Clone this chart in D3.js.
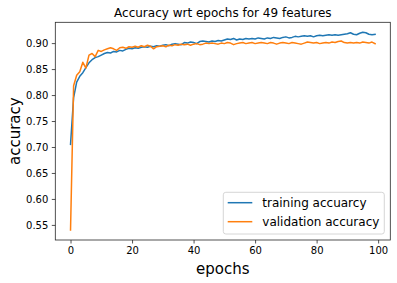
<!DOCTYPE html>
<html>
<head>
<meta charset="utf-8">
<script src="https://cdn.jsdelivr.net/npm/d3@7"></script>
<style>
  body { margin: 0; background: #fff; }
  text { font-family: "DejaVu Sans", sans-serif; fill: #000; }
</style>
</head>
<body>
<script>
// data
const epochs = d3.range(100)

const trainAcc = [
  0.705, 0.795, 0.825, 0.836, 0.843, 0.853, 0.862, 0.868, 0.872, 0.874,
  0.877, 0.880, 0.882, 0.881, 0.884, 0.883, 0.886, 0.885, 0.888, 0.890,
  0.889, 0.891, 0.890, 0.892, 0.893, 0.892, 0.894, 0.893, 0.895, 0.894,
  0.896, 0.897, 0.895, 0.898, 0.899, 0.898, 0.897, 0.901, 0.900, 0.902,
  0.901, 0.899, 0.903, 0.904, 0.903, 0.902, 0.904, 0.903, 0.905, 0.904,
  0.906, 0.908, 0.907, 0.909, 0.906, 0.908, 0.907, 0.909, 0.908, 0.909,
  0.908, 0.910, 0.909, 0.908, 0.910, 0.909, 0.911, 0.910, 0.909, 0.911,
  0.912, 0.910, 0.911, 0.913, 0.912, 0.913, 0.914, 0.913, 0.914, 0.912,
  0.914, 0.915, 0.914, 0.915, 0.916, 0.915, 0.916, 0.915, 0.916, 0.917,
  0.918, 0.920, 0.917, 0.916, 0.919, 0.921, 0.920, 0.917, 0.916, 0.917
]

const valAcc = [
  0.540, 0.818, 0.838, 0.845, 0.863, 0.852, 0.877, 0.880, 0.874, 0.886,
  0.884, 0.887, 0.889, 0.891, 0.889, 0.886, 0.891, 0.892, 0.890, 0.893,
  0.892, 0.894, 0.892, 0.895, 0.893, 0.896, 0.894, 0.889, 0.893, 0.894,
  0.895, 0.893, 0.896, 0.895, 0.897, 0.896, 0.898, 0.897, 0.898, 0.896,
  0.898, 0.899, 0.897, 0.898, 0.900, 0.899, 0.900, 0.899, 0.898, 0.900,
  0.899, 0.901, 0.900, 0.897, 0.899, 0.900, 0.901, 0.899, 0.900, 0.901,
  0.899, 0.900, 0.901, 0.900, 0.899, 0.901, 0.900, 0.898, 0.900, 0.901,
  0.900, 0.899, 0.901, 0.900, 0.899, 0.898, 0.900, 0.902, 0.901, 0.900,
  0.901, 0.899, 0.900, 0.901, 0.900, 0.902, 0.901, 0.903, 0.904, 0.901,
  0.900, 0.901, 0.900, 0.901, 0.900, 0.902, 0.901, 0.900, 0.902, 0.899
]

const seriesNames = ['training accuarcy', 'validation accuracy']
const xTicks = [0, 20, 40, 60, 80, 100]
const yTicks = [0.55, 0.60, 0.65, 0.70, 0.75, 0.80, 0.85, 0.90]

//Declare VARIABLES
const w = 397
const h = 283
const margin = { left: 55.3, right: 6.7, top: 22.3, bottom: 43 }
const colors = ['#1f77b4', '#ff7f0e']

const svg = d3.select('body')
  .append('svg')
  .attr('width', w)
  .attr('height', h)

// matplotlib style 5% padding on the data range
const xExt = d3.extent(epochs)
const xPad = (xExt[1] - xExt[0]) * 0.05
const allY = trainAcc.concat(valAcc)
const yExt = d3.extent(allY)
const yPad = (yExt[1] - yExt[0]) * 0.05

const x = d3.scaleLinear()
  .domain([xExt[0] - xPad, xExt[1] + xPad])
  .range([margin.left, w - margin.right])

const y = d3.scaleLinear()
  .domain([yExt[0] - yPad, yExt[1] + yPad])
  .range([h - margin.bottom, margin.top])

// Axes
const xAxis = svg.append('g')
  .attr('transform', `translate(0,${h - margin.bottom})`)
  .call(d3.axisBottom(x).tickValues(xTicks).tickSize(3.5).tickPadding(3.5).tickFormat(d3.format('d')))

const yAxis = svg.append('g')
  .attr('transform', `translate(${margin.left},0)`)
  .call(d3.axisLeft(y).tickValues(yTicks).tickSize(3.5).tickPadding(3.5).tickFormat(d3.format('.2f')))

svg.selectAll('.tick text').style('font-size', '10px').style('font-family', '"DejaVu Sans", sans-serif').attr('fill', '#262626')
svg.selectAll('.tick line').attr('stroke', '#262626').attr('stroke-width', 0.8)
svg.selectAll('.domain').remove()

// Lines
const line = d3.line()
  .x((d, i) => x(epochs[i]))
  .y(d => y(d))

svg.selectAll('path.series')
  .data([trainAcc, valAcc])
  .enter()
  .append('path')
  .attr('class', 'series')
  .attr('d', line)
  .attr('fill', 'none')
  .attr('stroke', (d, i) => colors[i])
  .attr('stroke-width', 1.5)
  .attr('stroke-linejoin', 'round')
  .attr('stroke-linecap', 'square')

// Frame
svg.append('rect')
  .attr('x', margin.left)
  .attr('y', margin.top)
  .attr('width', w - margin.left - margin.right)
  .attr('height', h - margin.top - margin.bottom)
  .attr('fill', 'none')
  .attr('stroke', '#262626')
  .attr('stroke-width', 0.8)

// Title and labels
const cx = (margin.left + w - margin.right) / 2
svg.append('text')
  .attr('x', cx)
  .attr('y', 16.7)
  .attr('text-anchor', 'middle')
  .style('font-size', '12px')
  .text('Accuracy wrt epochs for 49 features')

svg.append('text')
  .attr('x', cx)
  .attr('y', 274)
  .attr('text-anchor', 'middle')
  .style('font-size', '15px')
  .text('epochs')

svg.append('text')
  .attr('transform', `translate(19.5,${(margin.top + h - margin.bottom) / 2}) rotate(-90)`)
  .attr('text-anchor', 'middle')
  .style('font-size', '15px')
  .text('accuracy')

// Legend
const legendX = 223.3
const legendY = 192.3
const legend = svg.append('g')

legend.append('rect')
  .attr('x', legendX)
  .attr('y', legendY)
  .attr('width', 161)
  .attr('height', 41.7)
  .attr('rx', 2.5)
  .attr('fill', 'rgba(255,255,255,0.8)')
  .attr('stroke', '#cccccc')
  .attr('stroke-width', 0.8)

legend.selectAll('line')
  .data(seriesNames)
  .enter()
  .append('line')
  .attr('x1', legendX + 4.4)
  .attr('x2', legendX + 29)
  .attr('y1', (d, i) => legendY + 10.4 + i * 19)
  .attr('y2', (d, i) => legendY + 10.4 + i * 19)
  .attr('stroke', (d, i) => colors[i])
  .attr('stroke-width', 1.5)

legend.selectAll('text')
  .data(seriesNames)
  .enter()
  .append('text')
  .attr('x', legendX + 39)
  .attr('y', (d, i) => legendY + 14.6 + i * 19)
  .style('font-size', '12px')
  .text(d => d)
</script>
</body>
</html>
